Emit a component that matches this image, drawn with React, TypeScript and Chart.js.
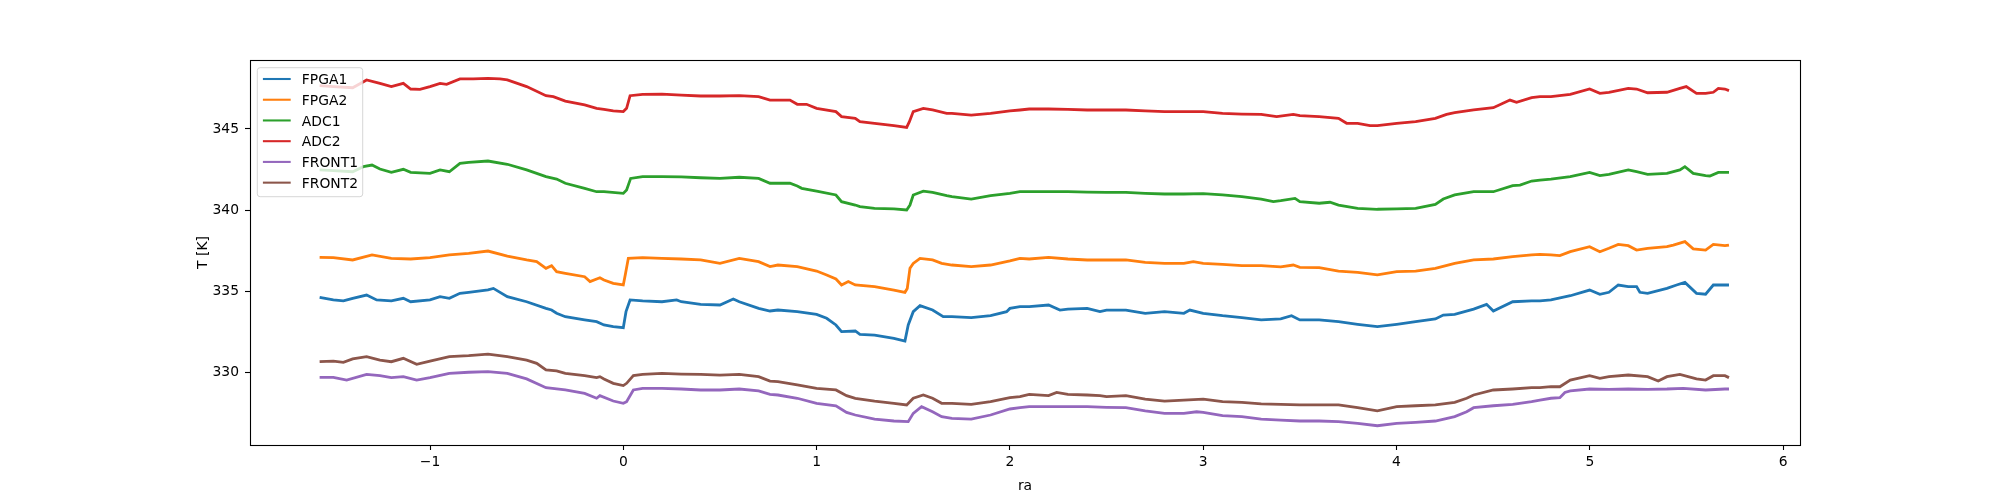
import React, { useEffect, useRef } from "react";
import { Chart, registerables } from "chart.js";

Chart.register(...registerables);

const seriesNames = ["FPGA1", "FPGA2", "ADC1", "ADC2", "FRONT1", "FRONT2"];
const seriesColors = ["#1f77b4", "#ff7f0e", "#2ca02c", "#d62728", "#9467bd", "#8c564b"];
const xTicks = [-1, 0, 1, 2, 3, 4, 5, 6];
const yTicks = [330, 335, 340, 345];
const xLabel = "ra";
const yLabel = "T [K]";

const FPGA1: [number, number][] = [
  [-1.571, 334.64], [-1.5, 334.48], [-1.448, 334.42], [-1.4, 334.58], [-1.328, 334.78], [-1.276, 334.48], [-1.2, 334.42], [-1.138, 334.58], [-1.1, 334.37], [-1.0, 334.48], [-0.948, 334.68], [-0.9, 334.58], [-0.845, 334.89], [-0.8, 334.95], [-0.7, 335.1], [-0.672, 335.19], [-0.6, 334.68],
  [-0.5, 334.37], [-0.4, 333.96], [-0.371, 333.86], [-0.345, 333.66], [-0.3, 333.45], [-0.2, 333.25], [-0.138, 333.14], [-0.1, 332.94], [-0.052, 332.84], [0.0, 332.77], [0.014, 333.76], [0.035, 334.48], [0.1, 334.42], [0.2, 334.37], [0.276, 334.48], [0.3, 334.37], [0.4, 334.21], [0.5, 334.17], [0.569, 334.54], [0.6, 334.37], [0.7, 333.96], [0.759, 333.8],
  [0.8, 333.86], [0.9, 333.76], [1.0, 333.59], [1.052, 333.35], [1.1, 332.94], [1.129, 332.53], [1.2, 332.57], [1.224, 332.36], [1.3, 332.32], [1.4, 332.12], [1.457, 331.95], [1.474, 332.94], [1.5, 333.76], [1.535, 334.13], [1.6, 333.86], [1.655, 333.45], [1.7, 333.45], [1.8, 333.39], [1.9, 333.51], [1.983, 333.76], [2.0, 333.96],
  [2.052, 334.07], [2.1, 334.07], [2.2, 334.17], [2.259, 333.86], [2.3, 333.92], [2.4, 333.96], [2.466, 333.76], [2.5, 333.86], [2.6, 333.86], [2.7, 333.66], [2.8, 333.76], [2.9, 333.66], [2.931, 333.86], [3.0, 333.66], [3.1, 333.51], [3.2, 333.39], [3.3, 333.25], [3.401, 333.31],
  [3.457, 333.51], [3.5, 333.25], [3.6, 333.25], [3.7, 333.14], [3.799, 332.98], [3.901, 332.84], [4.001, 332.98], [4.099, 333.14], [4.201, 333.31], [4.242, 333.55], [4.301, 333.59], [4.399, 333.92], [4.466, 334.21], [4.501, 333.8], [4.601, 334.37], [4.699, 334.42],
  [4.742, 334.42], [4.799, 334.48], [4.899, 334.74], [4.999, 335.09], [5.052, 334.83], [5.099, 334.95], [5.147, 335.4], [5.199, 335.3], [5.242, 335.3], [5.259, 334.95], [5.299, 334.89], [5.399, 335.19], [5.449, 335.4], [5.492, 335.56], [5.552, 334.89], [5.599, 334.83], [5.639, 335.4], [5.699, 335.4], [5.72, 335.4],
];

const FPGA2: [number, number][] = [
  [-1.571, 337.1], [-1.5, 337.08], [-1.4, 336.94], [-1.3, 337.25], [-1.2, 337.04], [-1.1, 337.0], [-1.0, 337.08], [-0.9, 337.25], [-0.8, 337.35], [-0.7, 337.49], [-0.6, 337.18],
  [-0.5, 336.94], [-0.448, 336.84], [-0.4, 336.43], [-0.371, 336.59], [-0.345, 336.22], [-0.3, 336.12], [-0.2, 335.91], [-0.172, 335.61], [-0.121, 335.85], [-0.1, 335.71], [-0.052, 335.5], [0.0, 335.4], [0.01, 336.02], [0.026, 337.04], [0.1, 337.08], [0.2, 337.04], [0.3, 337.0], [0.4, 336.94], [0.5, 336.73], [0.6, 337.04], [0.7, 336.84], [0.759, 336.53],
  [0.8, 336.63], [0.9, 336.53], [1.0, 336.26], [1.052, 336.02], [1.1, 335.77], [1.129, 335.4], [1.164, 335.61], [1.2, 335.4], [1.3, 335.3], [1.4, 335.09], [1.457, 334.95], [1.469, 335.19], [1.483, 336.43], [1.5, 336.73], [1.535, 337.04], [1.6, 336.94], [1.647, 336.73], [1.7, 336.63], [1.8, 336.53], [1.9, 336.63], [2.0, 336.88],
  [2.052, 337.04], [2.1, 337.0], [2.2, 337.1], [2.3, 337.0], [2.4, 336.94], [2.5, 336.94], [2.6, 336.94], [2.7, 336.79], [2.8, 336.73], [2.9, 336.73], [2.949, 336.84], [3.0, 336.73], [3.1, 336.67], [3.2, 336.59], [3.3, 336.59], [3.401, 336.51],
  [3.466, 336.63], [3.5, 336.49], [3.6, 336.47], [3.7, 336.26], [3.799, 336.18], [3.901, 336.02], [4.001, 336.22], [4.099, 336.26], [4.201, 336.43], [4.301, 336.73], [4.399, 336.94], [4.501, 337.0], [4.601, 337.14], [4.699, 337.25],
  [4.742, 337.29], [4.799, 337.25], [4.845, 337.21], [4.899, 337.45], [4.999, 337.76], [5.052, 337.45], [5.099, 337.66], [5.147, 337.9], [5.199, 337.82], [5.242, 337.55], [5.299, 337.66], [5.399, 337.76], [5.432, 337.86], [5.492, 338.07], [5.535, 337.62], [5.599, 337.55], [5.639, 337.9], [5.699, 337.82], [5.72, 337.86],
];

const ADC1: [number, number][] = [
  [-1.571, 342.48], [-1.5, 342.44], [-1.4, 342.37], [-1.345, 342.68], [-1.3, 342.78], [-1.259, 342.54], [-1.2, 342.33], [-1.138, 342.52], [-1.1, 342.33], [-1.0, 342.27], [-0.948, 342.48], [-0.9, 342.37], [-0.845, 342.89], [-0.8, 342.95], [-0.7, 343.03], [-0.6, 342.83],
  [-0.5, 342.48], [-0.4, 342.07], [-0.345, 341.92], [-0.3, 341.66], [-0.2, 341.35], [-0.138, 341.14], [-0.1, 341.14], [0.0, 341.04], [0.017, 341.25], [0.038, 341.96], [0.1, 342.07], [0.2, 342.07], [0.3, 342.05], [0.4, 342.0], [0.5, 341.96], [0.6, 342.03], [0.7, 341.96], [0.759, 341.66],
  [0.8, 341.66], [0.862, 341.66], [0.9, 341.49], [0.923, 341.35], [1.0, 341.18], [1.1, 340.94], [1.129, 340.53], [1.2, 340.32], [1.224, 340.22], [1.3, 340.12], [1.4, 340.08], [1.466, 340.02], [1.483, 340.32], [1.5, 340.94], [1.552, 341.18], [1.6, 341.1], [1.673, 340.9], [1.7, 340.84], [1.8, 340.69], [1.9, 340.9], [2.0, 341.04],
  [2.052, 341.14], [2.1, 341.14], [2.2, 341.14], [2.3, 341.14], [2.4, 341.12], [2.5, 341.1], [2.6, 341.1], [2.7, 341.04], [2.8, 341.0], [2.9, 341.0], [3.0, 341.02], [3.1, 340.94], [3.2, 340.84], [3.3, 340.69], [3.363, 340.53], [3.401, 340.59],
  [3.475, 340.73], [3.5, 340.53], [3.6, 340.43], [3.656, 340.49], [3.7, 340.32], [3.799, 340.12], [3.901, 340.06], [4.001, 340.08], [4.099, 340.12], [4.201, 340.36], [4.242, 340.69], [4.301, 340.94], [4.399, 341.14], [4.501, 341.14], [4.601, 341.51], [4.639, 341.55], [4.699, 341.8],
  [4.742, 341.86], [4.799, 341.92], [4.899, 342.07], [4.999, 342.33], [5.052, 342.13], [5.099, 342.21], [5.199, 342.48], [5.242, 342.37], [5.299, 342.21], [5.399, 342.27], [5.466, 342.48], [5.492, 342.68], [5.535, 342.27], [5.599, 342.13], [5.621, 342.11], [5.665, 342.33], [5.699, 342.33], [5.72, 342.33],
];

const ADC2: [number, number][] = [
  [-1.571, 347.67], [-1.5, 347.61], [-1.4, 347.54], [-1.328, 348.02], [-1.259, 347.81], [-1.2, 347.61], [-1.138, 347.81], [-1.1, 347.46], [-1.052, 347.44], [-1.0, 347.61], [-0.948, 347.81], [-0.914, 347.75], [-0.845, 348.08], [-0.776, 348.08], [-0.7, 348.12], [-0.638, 348.08], [-0.6, 348.02],
  [-0.5, 347.61], [-0.4, 347.05], [-0.362, 346.99], [-0.3, 346.72], [-0.2, 346.48], [-0.138, 346.27], [-0.1, 346.21], [-0.052, 346.11], [0.0, 346.07], [0.017, 346.27], [0.035, 347.05], [0.1, 347.13], [0.2, 347.15], [0.3, 347.09], [0.4, 347.03], [0.5, 347.03], [0.6, 347.05], [0.7, 346.99], [0.759, 346.78],
  [0.8, 346.78], [0.862, 346.78], [0.9, 346.52], [0.948, 346.52], [1.0, 346.27], [1.1, 346.07], [1.129, 345.76], [1.2, 345.66], [1.224, 345.45], [1.3, 345.35], [1.4, 345.21], [1.466, 345.1], [1.48, 345.45], [1.5, 346.07], [1.552, 346.27], [1.6, 346.17], [1.673, 345.96], [1.7, 345.96], [1.8, 345.86], [1.9, 345.96], [2.0, 346.11],
  [2.052, 346.17], [2.1, 346.23], [2.2, 346.23], [2.3, 346.21], [2.4, 346.17], [2.5, 346.17], [2.6, 346.17], [2.7, 346.11], [2.8, 346.07], [2.9, 346.07], [3.0, 346.07], [3.1, 345.96], [3.2, 345.92], [3.3, 345.9], [3.38, 345.76],
  [3.466, 345.9], [3.5, 345.82], [3.6, 345.76], [3.7, 345.66], [3.742, 345.35], [3.799, 345.35], [3.863, 345.21], [3.901, 345.21], [4.001, 345.35], [4.099, 345.45], [4.201, 345.66], [4.259, 345.9], [4.301, 346.01], [4.399, 346.17], [4.501, 346.31], [4.587, 346.78], [4.621, 346.64], [4.699, 346.93],
  [4.742, 346.99], [4.799, 346.99], [4.899, 347.13], [4.999, 347.46], [5.052, 347.19], [5.099, 347.26], [5.199, 347.5], [5.242, 347.46], [5.299, 347.23], [5.399, 347.26], [5.466, 347.5], [5.499, 347.61], [5.552, 347.19], [5.599, 347.19], [5.639, 347.26], [5.665, 347.5], [5.699, 347.46], [5.72, 347.36],
];

const FRONT1: [number, number][] = [
  [-1.571, 329.72], [-1.5, 329.72], [-1.431, 329.55], [-1.328, 329.9], [-1.259, 329.82], [-1.2, 329.7], [-1.138, 329.76], [-1.069, 329.55], [-1.0, 329.7], [-0.9, 329.96], [-0.8, 330.03], [-0.7, 330.07], [-0.6, 329.96],
  [-0.5, 329.62], [-0.4, 329.08], [-0.3, 328.94], [-0.2, 328.73], [-0.138, 328.43], [-0.121, 328.59], [-0.052, 328.26], [0.0, 328.12], [0.017, 328.22], [0.052, 328.94], [0.1, 329.04], [0.2, 329.04], [0.3, 329.0], [0.4, 328.94], [0.5, 328.94], [0.6, 329.0], [0.7, 328.88], [0.759, 328.67],
  [0.8, 328.63], [0.9, 328.43], [1.0, 328.12], [1.1, 327.97], [1.155, 327.56], [1.2, 327.4], [1.3, 327.15], [1.4, 327.03], [1.474, 326.99], [1.5, 327.5], [1.543, 327.91], [1.6, 327.6], [1.647, 327.3], [1.7, 327.19], [1.8, 327.15], [1.9, 327.4], [2.0, 327.77],
  [2.052, 327.85], [2.1, 327.91], [2.2, 327.91], [2.3, 327.91], [2.4, 327.91], [2.5, 327.87], [2.6, 327.85], [2.7, 327.65], [2.8, 327.5], [2.9, 327.5], [2.966, 327.6], [3.0, 327.56], [3.1, 327.36], [3.2, 327.3], [3.3, 327.15], [3.401, 327.09],
  [3.5, 327.03], [3.6, 327.03], [3.7, 326.99], [3.799, 326.89], [3.901, 326.74], [4.001, 326.89], [4.099, 326.95], [4.201, 327.03], [4.301, 327.3], [4.363, 327.6], [4.399, 327.85], [4.501, 327.97], [4.601, 328.06], [4.699, 328.22],
  [4.742, 328.32], [4.799, 328.43], [4.845, 328.47], [4.871, 328.79], [4.899, 328.88], [4.999, 329.0], [5.099, 328.98], [5.199, 329.0], [5.299, 328.98], [5.399, 329.0], [5.484, 329.04], [5.599, 328.94], [5.699, 329.0], [5.72, 329.0],
];

const FRONT2: [number, number][] = [
  [-1.571, 330.68], [-1.5, 330.72], [-1.448, 330.64], [-1.4, 330.85], [-1.328, 330.99], [-1.259, 330.78], [-1.2, 330.68], [-1.138, 330.89], [-1.069, 330.52], [-1.0, 330.72], [-0.9, 330.99], [-0.8, 331.05], [-0.7, 331.15], [-0.6, 330.99],
  [-0.5, 330.78], [-0.448, 330.58], [-0.4, 330.17], [-0.345, 330.11], [-0.3, 329.96], [-0.2, 329.82], [-0.138, 329.7], [-0.121, 329.76], [-0.1, 329.62], [-0.052, 329.35], [0.0, 329.21], [0.017, 329.35], [0.052, 329.82], [0.1, 329.9], [0.2, 329.96], [0.3, 329.92], [0.4, 329.9], [0.5, 329.86], [0.6, 329.9], [0.7, 329.76], [0.759, 329.49],
  [0.8, 329.45], [0.9, 329.25], [1.0, 329.04], [1.1, 328.94], [1.155, 328.59], [1.2, 328.43], [1.3, 328.26], [1.4, 328.12], [1.466, 328.02], [1.5, 328.43], [1.552, 328.63], [1.6, 328.43], [1.647, 328.12], [1.7, 328.12], [1.8, 328.06], [1.9, 328.22], [2.0, 328.47],
  [2.052, 328.53], [2.1, 328.67], [2.2, 328.59], [2.242, 328.79], [2.3, 328.67], [2.4, 328.63], [2.466, 328.59], [2.5, 328.53], [2.6, 328.59], [2.7, 328.38], [2.8, 328.26], [2.9, 328.32], [3.0, 328.38], [3.1, 328.22], [3.2, 328.18], [3.3, 328.08], [3.401, 328.06],
  [3.5, 328.02], [3.6, 328.02], [3.7, 328.02], [3.799, 327.85], [3.901, 327.65], [4.001, 327.91], [4.099, 327.97], [4.201, 328.02], [4.301, 328.18], [4.363, 328.43], [4.399, 328.63], [4.501, 328.94], [4.601, 329.0], [4.699, 329.08],
  [4.742, 329.08], [4.799, 329.14], [4.845, 329.14], [4.899, 329.55], [4.999, 329.82], [5.052, 329.66], [5.099, 329.76], [5.199, 329.86], [5.299, 329.76], [5.354, 329.49], [5.399, 329.76], [5.466, 329.9], [5.552, 329.62], [5.599, 329.55], [5.639, 329.82], [5.699, 329.82], [5.72, 329.7],
];

const allSeries = [FPGA1, FPGA2, ADC1, ADC2, FRONT1, FRONT2];

const X_MIN = -1.9312;
const X_MAX = 6.0874;
const Y_MIN = 325.554;
const Y_MAX = 349.246;

const FONT_FAMILY = '"DejaVu Sans", sans-serif';
const FS = 13.89;

const fmt = (v: number) => String(v).replace("-", "\u2212");

export default function App() {
  const ref = useRef<HTMLCanvasElement>(null);

  useEffect(() => {
    document.body.style.margin = "0";
    const canvas = ref.current;
    if (!canvas) return;

    const overlay = {
      id: "mplOverlay",
      afterDraw(chart: any) {
        const ctx = chart.ctx as CanvasRenderingContext2D;
        const a = chart.chartArea;
        ctx.save();
        // spines (box)
        ctx.strokeStyle = "#000";
        ctx.lineWidth = 1.1;
        ctx.strokeRect(a.left + 0.5, a.top + 0.5, a.right - a.left, a.bottom - a.top);

        // axis titles
        ctx.fillStyle = "#000";
        ctx.font = `${FS}px ${FONT_FAMILY}`;
        ctx.textAlign = "center";
        ctx.textBaseline = "alphabetic";
        ctx.fillText(xLabel, (a.left + a.right) / 2, 490);
        ctx.save();
        ctx.translate(206.5, (a.top + a.bottom) / 2);
        ctx.rotate(-Math.PI / 2);
        ctx.fillText(yLabel, 0, 0);
        ctx.restore();

        // legend
        const bx = a.left + 7.3;
        const by = a.top + 7.7;
        const bw = 105.4;
        const bh = 129;
        ctx.beginPath();
        (ctx as any).roundRect(bx, by, bw, bh, 2.8);
        ctx.fillStyle = "rgba(255,255,255,0.8)";
        ctx.fill();
        ctx.strokeStyle = "rgba(204,204,204,0.8)";
        ctx.lineWidth = 1;
        ctx.stroke();
        ctx.textAlign = "left";
        ctx.textBaseline = "alphabetic";
        seriesNames.forEach((name, i) => {
          const cy = by + 11.3 + i * 20.73;
          ctx.strokeStyle = seriesColors[i];
          ctx.lineWidth = 2.08;
          ctx.beginPath();
          ctx.moveTo(bx + 5.6, cy);
          ctx.lineTo(bx + 33.4, cy);
          ctx.stroke();
          ctx.fillStyle = "#000";
          ctx.fillText(name, bx + 44.5, cy + 5.05);
        });
        ctx.restore();
      },
    };

    const chart = new Chart(canvas, {
      type: "line",
      data: {
        datasets: allSeries.map((s, i) => ({
          label: seriesNames[i],
          data: s.map(([x, y]) => ({ x, y })),
          borderColor: seriesColors[i],
          backgroundColor: seriesColors[i],
          borderWidth: 2.8,
          pointRadius: 0,
          tension: 0,
          fill: false,
        })),
      },
      options: {
        animation: false,
        responsive: false,
        maintainAspectRatio: false,
        devicePixelRatio: 1,
        events: [],
        layout: { padding: { left: 0, right: 200, top: 60, bottom: 0 } },
        plugins: {
          legend: { display: false },
          tooltip: { enabled: false },
          title: { display: false },
        },
        scales: {
          x: {
            type: "linear",
            min: X_MIN,
            max: X_MAX,
            afterFit: (s: any) => {
              s.height = 55;
            },
            afterBuildTicks: (s: any) => {
              s.ticks = xTicks.map((v) => ({ value: v }));
            },
            grid: {
              display: true,
              drawOnChartArea: false,
              drawTicks: true,
              tickLength: 5,
              tickColor: "#000",
              tickWidth: 1.1,
              color: "#000",
            },
            border: { display: false },
            ticks: {
              color: "#000",
              font: { family: FONT_FAMILY, size: FS },
              padding: 4,
              maxRotation: 0,
              autoSkip: false,
              callback: (v: any) => fmt(Number(v)),
            },
          },
          y: {
            type: "linear",
            min: Y_MIN,
            max: Y_MAX,
            afterFit: (s: any) => {
              s.width = 250;
            },
            afterBuildTicks: (s: any) => {
              s.ticks = yTicks.map((v) => ({ value: v }));
            },
            grid: {
              display: true,
              drawOnChartArea: false,
              drawTicks: true,
              tickLength: 5,
              tickColor: "#000",
              tickWidth: 1.1,
              color: "#000",
            },
            border: { display: false },
            ticks: {
              color: "#000",
              font: { family: FONT_FAMILY, size: FS },
              padding: 6,
              autoSkip: false,
              callback: (v: any) => fmt(Number(v)),
            },
          },
        },
      },
      plugins: [overlay],
    } as any);

    return () => {
      chart.destroy();
    };
  }, []);

  return (
    <div style={{ width: 2000, height: 500, position: "relative", background: "#fff" }}>
      <canvas ref={ref} width={2000} height={500} style={{ display: "block", width: 2000, height: 500 }} />
    </div>
  );
}
